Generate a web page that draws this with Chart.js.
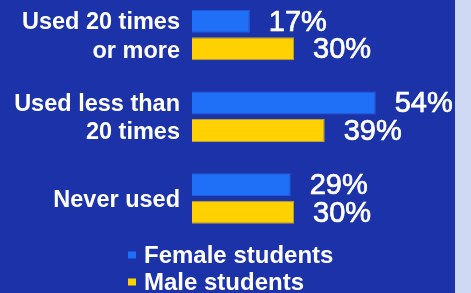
<!DOCTYPE html>
<html>
<head>
<meta charset="utf-8">
<script src="https://cdn.jsdelivr.net/npm/chart.js@4"></script>
<style>
  html, body { margin: 0; padding: 0; background: #d0d9f4; }
  #wrap { position: absolute; left: 0; top: 0; width: 455px; height: 293px; background: #1b32a9; }
</style>
</head>
<body>
<div id="wrap"><canvas id="c" width="455" height="293"></canvas></div>
<script>
const categories = [["Used 20 times", "or more"], ["Used less than", "20 times"], ["Never used"]];
const seriesNames = ["Female students", "Male students"];
const femaleValues = [17, 54, 29];
const maleValues = [30, 39, 30];
const colors = ["#1f6ff7", "#ffd100"];
const borders = ["#2a60d8", "#b8a23a"];
const FONT = "'Liberation Sans', Arial, sans-serif";

const shiftTickLabels = {
  id: 'shiftTickLabels',
  beforeDraw(chart) {
    const items = chart.scales.y.getLabelItems();
    items.forEach(it => {
      if (!it._shifted && it.options && it.options.translation) {
        it.options.translation[1] += 2;
        it._shifted = true;
      }
    });
  }
};

const valueLabels = {
  id: 'valueLabels',
  afterDatasetsDraw(chart) {
    const ctx = chart.ctx;
    ctx.save();
    ctx.fillStyle = '#ffffff';
    ctx.strokeStyle = '#ffffff';
    ctx.lineWidth = 0.7;
    ctx.font = '29px ' + FONT;
    ctx.textAlign = 'left';
    ctx.textBaseline = 'middle';
    chart.data.datasets.forEach((ds, di) => {
      chart.getDatasetMeta(di).data.forEach((el, i) => {
        const t = ds.data[i] + '%';
        ctx.fillText(t, el.x + 19, el.y + 1.5);
        ctx.strokeText(t, el.x + 19, el.y + 1.5);
      });
    });
    ctx.restore();
  }
};

const customLegend = {
  id: 'customLegend',
  afterDraw(chart) {
    const ctx = chart.ctx;
    ctx.save();
    ctx.font = 'bold 24px ' + FONT;
    ctx.textBaseline = 'middle';
    ctx.textAlign = 'left';
    chart.data.datasets.forEach((ds, di) => {
      const y = 255 + di * 27;
      ctx.fillStyle = ds.backgroundColor;
      ctx.fillRect(128, y - 3.5, 8, 7);
      ctx.fillStyle = '#ffffff';
      ctx.fillText(ds.label, 144, y + 1.5);
    });
    ctx.restore();
  }
};

new Chart(document.getElementById('c'), {
  type: 'bar',
  data: {
    labels: categories,
    datasets: [
      { label: seriesNames[0], data: femaleValues, backgroundColor: colors[0], borderColor: borders[0], borderWidth: 1, clip: false },
      { label: seriesNames[1], data: maleValues, backgroundColor: colors[1], borderColor: borders[1], borderWidth: 1, clip: false }
    ]
  },
  options: {
    indexAxis: 'y',
    responsive: false,
    animation: false,
    categoryPercentage: 0.673,
    barPercentage: 0.836,
    layout: { padding: { top: 35, bottom: 94.5, left: 0, right: 1 } },
    plugins: { legend: { display: false }, tooltip: { enabled: false } },
    scales: {
      x: { display: false, min: 0, max: 77 },
      y: {
        offset: false,
        grid: { display: false, offset: false },
        border: { display: false },
        ticks: {
          color: '#ffffff',
          padding: 4,
          font: { family: FONT, size: 23.5, weight: 'bold', lineHeight: 1.2 }
        },
        afterFit(s) { s.width = 192; }
      }
    }
  },
  plugins: [shiftTickLabels, valueLabels, customLegend]
});
</script>
</body>
</html>
